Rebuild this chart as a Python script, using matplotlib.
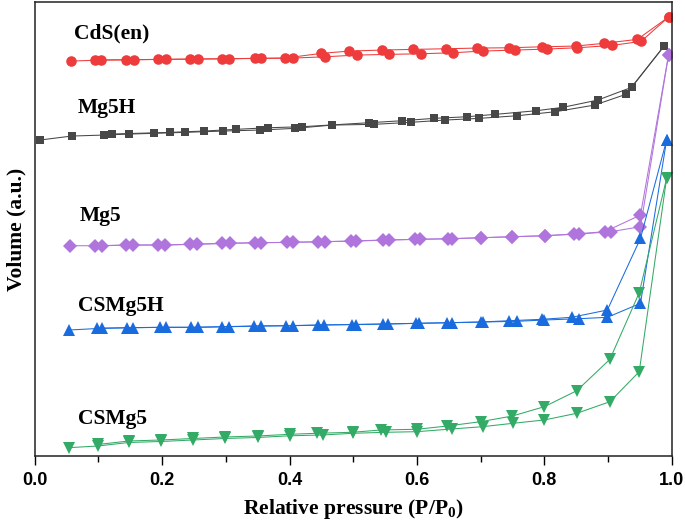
import matplotlib
matplotlib.use("Agg")
import matplotlib.pyplot as plt

plt.rcParams["font.family"] = "Liberation Serif"
plt.rcParams["font.weight"] = "bold"
plt.rcParams["mathtext.fontset"] = "custom"
plt.rcParams["mathtext.rm"] = "Liberation Serif:bold"
plt.rcParams["mathtext.bf"] = "Liberation Serif:bold"

# 吸附 / 脫附 數據 (P/P0, Volume a.u.)
cds_ads_x = [0.057, 0.104, 0.156, 0.206, 0.256, 0.305, 0.356, 0.406, 0.456, 0.506,
             0.556, 0.606, 0.656, 0.703, 0.754, 0.804, 0.852, 0.907, 0.952, 0.995]
cds_ads_y = [395, 396, 396.3, 396.7, 397, 397.3, 397.7, 398, 399.3, 401,
             401.7, 402.3, 403.3, 405, 406, 407, 408.3, 410.7, 414.7, 439]
cds_des_x = [0.995, 0.946, 0.893, 0.849, 0.797, 0.745, 0.694, 0.645, 0.594, 0.545,
             0.494, 0.450, 0.393, 0.346, 0.294, 0.244, 0.194, 0.144, 0.094]
cds_des_y = [439, 416.7, 412.7, 410, 409.3, 408.3, 408, 407.3, 406.7, 406,
             405, 402.7, 398, 397.7, 397.3, 397, 396.7, 396.3, 396]

mg5h_ads_x = [0.008, 0.058, 0.109, 0.148, 0.187, 0.236, 0.296, 0.353, 0.409, 0.467,
              0.532, 0.590, 0.644, 0.698, 0.757, 0.817, 0.879, 0.928, 0.988]
mg5h_ads_y = [316, 320, 321, 322, 322.7, 323.7, 325, 326, 327.7, 331,
              331.7, 333.7, 336, 337.7, 340.3, 344.3, 351, 361.7, 410]
mg5h_des_x = [0.988, 0.937, 0.884, 0.829, 0.787, 0.723, 0.678, 0.627, 0.576, 0.524,
              0.419, 0.366, 0.316, 0.265, 0.213, 0.121]
mg5h_des_y = [410, 368.7, 356, 348.7, 345.3, 341.7, 339.3, 337.7, 335.3, 333.3,
              329.3, 328.3, 326.7, 325, 323.7, 322]

mg5_ads_x = [0.055, 0.106, 0.155, 0.205, 0.254, 0.307, 0.356, 0.406, 0.456, 0.505,
             0.556, 0.605, 0.655, 0.701, 0.750, 0.801, 0.855, 0.904, 0.951, 0.995]
mg5_ads_y = [210.3, 210.3, 211, 211, 211.7, 212.7, 213.3, 213.7, 214.3, 215,
             216, 216.7, 217.3, 218.3, 219.3, 220.3, 222, 224.3, 229.3, 401]
mg5_des_x = [0.995, 0.951, 0.895, 0.846, 0.801, 0.750, 0.701, 0.649, 0.597, 0.547,
             0.497, 0.445, 0.396, 0.346, 0.294, 0.244, 0.194, 0.144, 0.095]
mg5_des_y = [401, 241, 224.3, 222, 220.3, 219.3, 218.3, 217.3, 216.7, 216,
             215, 214.3, 213.7, 213.3, 212.7, 211.7, 211, 211, 210.3]

csmg5h_ads_x = [0.054, 0.105, 0.155, 0.206, 0.256, 0.305, 0.356, 0.406, 0.454, 0.505,
                0.555, 0.604, 0.655, 0.703, 0.757, 0.800, 0.854, 0.899, 0.951, 0.992]
csmg5h_ads_y = [126, 127.7, 128.3, 128.7, 128.7, 129.3, 130, 130.3, 131, 131.5,
                132, 132.7, 133.3, 134, 134.7, 136, 137.3, 138.7, 152.7, 316]
csmg5h_des_x = [0.992, 0.951, 0.899, 0.843, 0.796, 0.745, 0.700, 0.648, 0.599, 0.547,
                0.498, 0.444, 0.395, 0.345, 0.294, 0.245, 0.197, 0.145, 0.097]
csmg5h_des_y = [316, 217.7, 146, 138.7, 136.7, 135.3, 134, 133.3, 132.7, 132,
                131.5, 131, 130.3, 130, 129.3, 128.7, 128.7, 128.3, 127.7]

csmg5_ads_x = [0.054, 0.099, 0.148, 0.199, 0.249, 0.299, 0.350, 0.401, 0.452, 0.500,
               0.551, 0.600, 0.655, 0.703, 0.751, 0.800, 0.851, 0.903, 0.949, 0.992]
csmg5_ads_y = [8.3, 10, 13.5, 14.5, 16, 17.5, 18.5, 20.2, 21, 22.7,
               23.7, 24.3, 27, 29.3, 32.7, 36, 42.7, 54.3, 84.3, 277.7]
csmg5_des_x = [0.992, 0.949, 0.903, 0.851, 0.800, 0.750, 0.700, 0.648, 0.600, 0.543,
               0.499, 0.443, 0.401, 0.350, 0.299, 0.249, 0.199, 0.148, 0.099]
csmg5_des_y = [277.7, 163.3, 96.7, 65.3, 49.3, 40, 34.3, 30, 26.7, 26,
               23.7, 22.7, 21.7, 20, 19, 17.5, 16, 15, 11.5]

names = ["CdS(en)", "Mg5H", "Mg5", "CSMg5H", "CSMg5"]
label_x = [0.062, 0.0675, 0.070, 0.0675, 0.0675]
label_y = [417.7, 342.7, 235.3, 145.3, 32]

series = [
    (cds_ads_x, cds_ads_y, cds_des_x, cds_des_y, "#EE3B3B", "o", 7.6),
    (mg5h_ads_x, mg5h_ads_y, mg5h_des_x, mg5h_des_y, "#474747", "s", 6.3),
    (mg5_ads_x, mg5_ads_y, mg5_des_x, mg5_des_y, "#B075DC", "D", 6.8),
    (csmg5h_ads_x, csmg5h_ads_y, csmg5h_des_x, csmg5h_des_y, "#1A6CDE", "^", 8.0),
    (csmg5_ads_x, csmg5_ads_y, csmg5_des_x, csmg5_des_y, "#33AA66", "v", 8.0),
]

fig = plt.figure(figsize=(6.85, 5.2), dpi=100)
ax = fig.add_axes([0.0507, 0.1237, 0.9299, 0.8723])

for ax_x, ax_y, de_x, de_y, c, m, ms in series:
    ax.plot(ax_x, ax_y, color=c, marker=m, markersize=ms, linewidth=0.75, markeredgewidth=0)
    ax.plot(de_x, de_y, color=c, marker=m, markersize=ms, linewidth=0.75, markeredgewidth=0)

for name, tx, ty in zip(names, label_x, label_y):
    ax.text(tx, ty, name, fontsize=15.5, fontweight="bold", va="baseline", ha="left")

ax.set_xlim(0, 1.0)
ax.set_ylim(0.3, 454)
ax.set_xticks([0.0, 0.2, 0.4, 0.6, 0.8, 1.0])
ax.set_xticks([0.1, 0.3, 0.5, 0.7, 0.9], minor=True)
ax.set_xticklabels(["0.0", "0.2", "0.4", "0.6", "0.8", "1.0"],
                   family="Liberation Sans", fontweight="bold", fontsize=13)
ax.set_yticks([])
ax.tick_params(axis="x", which="major", direction="out", length=6.5, width=1.0, pad=5)
ax.tick_params(axis="x", which="minor", direction="out", length=4, width=1.0)
for sp in ax.spines.values():
    sp.set_linewidth(1.1)
    sp.set_color("#222222")

ax.set_xlabel("Relative pressure (P/P$_{0}$)", fontsize=15.5, fontweight="bold", labelpad=6)
ax.set_ylabel("Volume (a.u.)", fontsize=15.5, fontweight="bold", labelpad=6)

fig.savefig("out.png", dpi=100)
